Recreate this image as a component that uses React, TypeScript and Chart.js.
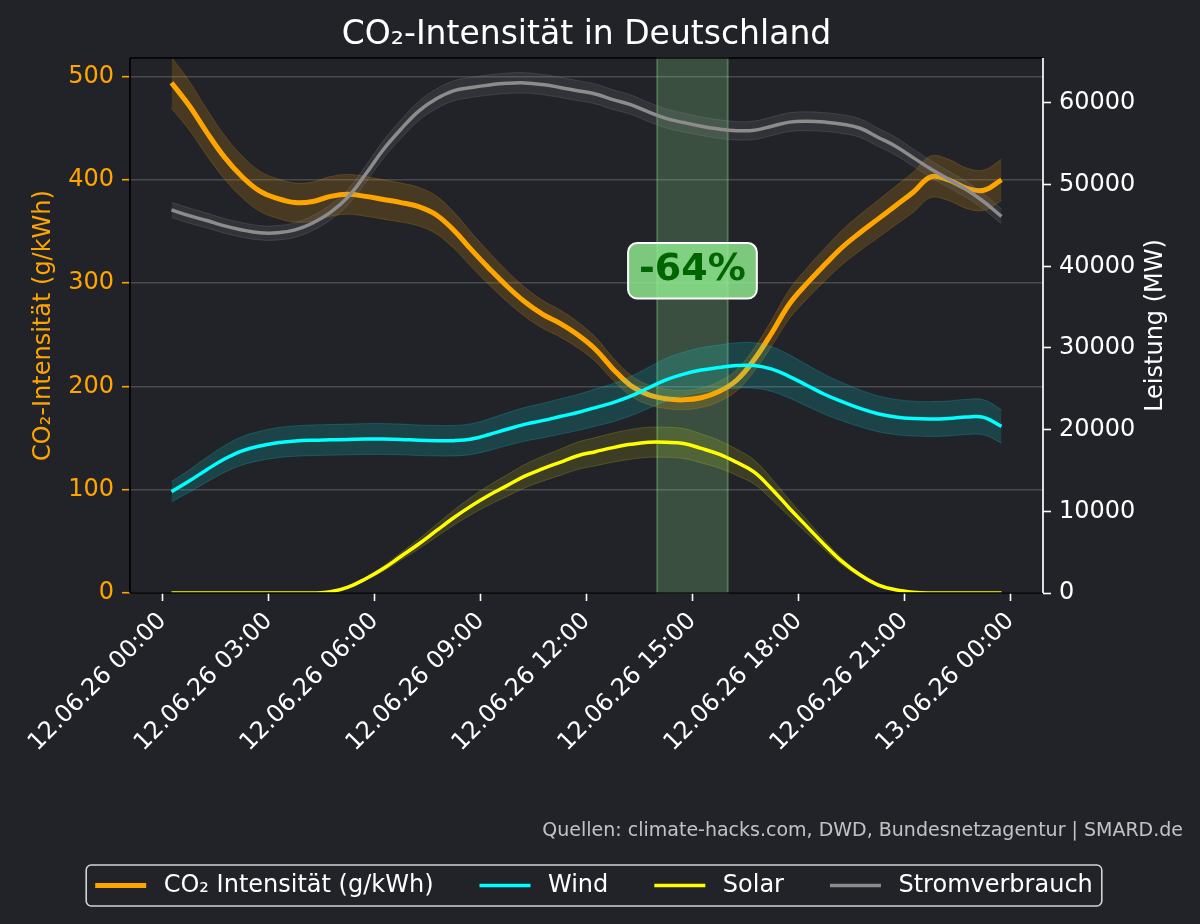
import React, { useEffect, useRef } from "react";
import { Chart, registerables } from "chart.js";

Chart.register(...registerables);

// ---------- data ----------
const hours = [
  0.25, 0.75, 1.25, 1.75, 2.25, 2.75, 3.25, 3.75, 4.25, 4.75, 5.25, 5.75,
  6.25, 6.75, 7.25, 7.75, 8.25, 8.75, 9.25, 9.75, 10.25, 10.75, 11.25, 11.75,
  12.25, 12.75, 13.25, 13.75, 14.25, 14.75, 15.25, 15.75, 16.25, 16.75, 17.25, 17.75,
  18.25, 18.75, 19.25, 19.75, 20.25, 20.75, 21.25, 21.75, 22.25, 22.75, 23.25, 23.75,
];

const co2 = [
  494, 472, 446, 422, 403, 389, 382, 378, 379, 384, 386, 384,
  381, 378, 374, 366, 351, 332, 314, 297, 282, 270, 261, 250,
  236, 217, 201, 192, 188, 187, 189, 195, 206, 226, 252, 280,
  300, 318, 335, 349, 362, 375, 388, 403, 400, 392, 390, 400,
];

const wind = [
  12400, 13700, 15100, 16400, 17400, 18000, 18400, 18600, 18700, 18750, 18800, 18850,
  18850, 18800, 18700, 18650, 18650, 18850, 19400, 20050, 20650, 21100, 21600, 22100,
  22700, 23300, 24100, 25100, 26100, 26800, 27300, 27600, 27850, 27850, 27400, 26500,
  25400, 24300, 23400, 22600, 21950, 21550, 21350, 21300, 21370, 21550, 21500, 20400,
];

const solar = [
  0, 0, 0, 0, 0, 0, 0, 0, 0, 150, 720, 1750,
  3000, 4500, 6000, 7630, 9240, 10700, 12000, 13150, 14300, 15200, 16000, 16800,
  17300, 17800, 18200, 18450, 18450, 18300, 17700, 17000, 16000, 14800, 12700, 10350,
  8100, 5850, 3800, 2200, 1000, 400, 100, 0, 0, 0, 0, 0,
];

const load = [
  46900, 46200, 45600, 44950, 44450, 44100, 44100, 44450, 45300, 46600, 48500, 51300,
  54300, 56800, 59000, 60500, 61500, 61900, 62200, 62400, 62450, 62250, 61900, 61500,
  61100, 60400, 59800, 58900, 58100, 57600, 57150, 56800, 56600, 56650, 57150, 57650,
  57750, 57650, 57400, 56900, 55800, 54700, 53300, 51900, 50650, 49400, 47900, 46100,
];

// relative uncertainty of each series (band half-width)
const co2Uncertainty = 0.05;
const windUncertainty = 0.1;
const solarUncertainty = 0.1;
const loadUncertainty = 0.02;

const xTickHours = [0, 3, 6, 9, 12, 15, 18, 21, 24];
const xTickLabels = [
  "12.06.26 00:00",
  "12.06.26 03:00",
  "12.06.26 06:00",
  "12.06.26 09:00",
  "12.06.26 12:00",
  "12.06.26 15:00",
  "12.06.26 18:00",
  "12.06.26 21:00",
  "13.06.26 00:00",
];
const co2Ticks = [0, 100, 200, 300, 400, 500];
const powerTicks = [0, 10000, 20000, 30000, 40000, 50000, 60000];

const X_MIN = -0.925;
const X_MAX = 24.925;
const CO2_MAX = 518;
const POWER_MAX = 65500;

const spanStart = 14;
const spanEnd = 16;
const annotationText = "-64%";
const annotationX = 15;
const annotationY = 312;

const titleText = "CO\u2082-Intensit\u00e4t in Deutschland";
const leftLabel = "CO\u2082-Intensit\u00e4t (g/kWh)";
const rightLabel = "Leistung (MW)";
const sourceText = "Quellen: climate-hacks.com, DWD, Bundesnetzagentur | SMARD.de";

const seriesLabels = ["CO\u2082 Intensit\u00e4t (g/kWh)", "Wind", "Solar", "Stromverbrauch"];

// ---------- style ----------
const BG = "#222329";
const FONT = "'DejaVu Sans', 'Noto Sans', sans-serif";
const ORANGE = "#FFA500";
const CYAN = "#00FFFF";
const YELLOW = "#FFFF00";
const GRAY = "#8c8c8c";

export default function App() {
  const ref = useRef<HTMLCanvasElement>(null);

  useEffect(() => {
    document.body.style.margin = "0";
    document.body.style.background = BG;
    const canvas = ref.current!;

    const pts = (vals: number[], f: number) => hours.map((h, i) => ({ x: h, y: vals[i] * f }));

    const series = [
      { label: seriesLabels[0], vals: co2, u: co2Uncertainty, color: ORANGE, fill: "rgba(255,165,0,0.17)", edge: "rgba(255,165,0,0.2)", axis: "y", width: 5 },
      { label: seriesLabels[1], vals: wind, u: windUncertainty, color: CYAN, fill: "rgba(0,255,255,0.15)", edge: "rgba(0,255,255,0.18)", axis: "y1", width: 3.5 },
      { label: seriesLabels[2], vals: solar, u: solarUncertainty, color: YELLOW, fill: "rgba(255,255,0,0.12)", edge: "rgba(255,255,0,0.16)", axis: "y1", width: 3.5 },
      { label: seriesLabels[3], vals: load, u: loadUncertainty, color: GRAY, fill: "rgba(150,150,150,0.15)", edge: "rgba(150,150,150,0.2)", axis: "y1", width: 3.5 },
    ];

    const datasets: any[] = [];
    const total = series.length * 3;
    let drawIdx = 0;
    series.forEach((s) => {
      datasets.push({
        label: s.label + " low",
        data: pts(s.vals, 1 - s.u),
        yAxisID: s.axis,
        borderColor: s.edge,
        borderWidth: 1,
        pointRadius: 0,
        fill: false,
        tension: 0.4,
        order: total - drawIdx++,
        clip: 0,
      });
      datasets.push({
        label: s.label + " high",
        data: pts(s.vals, 1 + s.u),
        yAxisID: s.axis,
        borderColor: s.edge,
        borderWidth: 1,
        pointRadius: 0,
        fill: "-1",
        backgroundColor: s.fill,
        tension: 0.4,
        order: total - drawIdx++,
        clip: 0,
      });
      datasets.push({
        label: s.label,
        data: pts(s.vals, 1),
        yAxisID: s.axis,
        borderColor: s.color,
        borderWidth: s.width,
        pointRadius: 0,
        fill: false,
        tension: 0.4,
        order: total - drawIdx++,
        clip: 0,
        isMain: true,
      });
    });

    const bgPlugin = {
      id: "bg",
      beforeDraw(chart: any) {
        const ctx = chart.ctx;
        ctx.save();
        ctx.fillStyle = BG;
        ctx.fillRect(0, 0, chart.width, chart.height);
        ctx.restore();
      },
    };

    const spanPlugin = {
      id: "span",
      beforeDatasetsDraw(chart: any) {
        const { ctx, chartArea } = chart;
        const xs = chart.scales.x;
        const x0 = xs.getPixelForValue(spanStart);
        const x1 = xs.getPixelForValue(spanEnd);
        ctx.save();
        ctx.fillStyle = "rgba(144,238,144,0.22)";
        ctx.fillRect(x0, chartArea.top, x1 - x0, chartArea.bottom - chartArea.top);
        ctx.strokeStyle = "rgba(144,238,144,0.3)";
        ctx.lineWidth = 2;
        ctx.strokeRect(x0, chartArea.top, x1 - x0, chartArea.bottom - chartArea.top);
        ctx.restore();
      },
    };

    const overlayPlugin = {
      id: "overlay",
      afterDatasetsDraw(chart: any) {
        const { ctx, chartArea } = chart;
        const { left, right, top, bottom } = chartArea;
        ctx.save();
        ctx.lineWidth = 1.7;
        ctx.strokeStyle = "#000000";
        ctx.beginPath();
        ctx.moveTo(left, top);
        ctx.lineTo(right, top);
        ctx.moveTo(left, top);
        ctx.lineTo(left, bottom);
        ctx.moveTo(left, bottom);
        ctx.lineTo(right, bottom);
        ctx.stroke();
        ctx.strokeStyle = "#ffffff";
        ctx.beginPath();
        ctx.moveTo(right, top);
        ctx.lineTo(right, bottom);
        ctx.stroke();

        // annotation
        const ax = chart.scales.x.getPixelForValue(annotationX);
        const ay = chart.scales.y.getPixelForValue(annotationY);
        ctx.font = `bold 38px ${FONT}`;
        const w = ctx.measureText(annotationText).width;
        const pad = 11;
        const bw = w + 2 * pad;
        const bh = 38 * 0.88 + 2 * pad;
        const bx = ax - bw / 2;
        const by = ay - bh / 2;
        ctx.beginPath();
        (ctx as any).roundRect(bx, by, bw, bh, 9);
        ctx.fillStyle = "rgba(144,238,144,0.82)";
        ctx.fill();
        ctx.lineWidth = 2;
        ctx.strokeStyle = "#ffffff";
        ctx.stroke();
        ctx.fillStyle = "#006400";
        ctx.textAlign = "center";
        ctx.textBaseline = "middle";
        ctx.fillText(annotationText, ax, ay - 1);
        ctx.restore();
      },
      afterDraw(chart: any) {
        const { ctx, chartArea } = chart;
        const cx = (chartArea.left + chartArea.right) / 2;
        const cy = (chartArea.top + chartArea.bottom) / 2;
        ctx.save();
        // title
        ctx.fillStyle = "#ffffff";
        ctx.font = `33px ${FONT}`;
        ctx.textAlign = "center";
        ctx.textBaseline = "alphabetic";
        ctx.fillText(titleText, cx, 44);

        // axis labels
        ctx.font = `24px ${FONT}`;
        ctx.textBaseline = "middle";
        ctx.save();
        ctx.translate(44, cy);
        ctx.rotate(-Math.PI / 2);
        ctx.fillStyle = ORANGE;
        ctx.fillText(leftLabel, 0, 0);
        ctx.restore();
        ctx.save();
        ctx.translate(1156, cy);
        ctx.rotate(-Math.PI / 2);
        ctx.fillStyle = "#ffffff";
        ctx.fillText(rightLabel, 0, 0);
        ctx.restore();

        // source
        ctx.font = `19px ${FONT}`;
        ctx.fillStyle = "rgba(255,255,255,0.72)";
        ctx.textAlign = "right";
        ctx.textBaseline = "middle";
        ctx.fillText(sourceText, 1183, 831);

        // legend
        ctx.font = `24px ${FONT}`;
        const mains = chart.data.datasets.filter((d: any) => d.isMain);
        const handle = 51;
        const hpad = 17.5;
        const colSpace = 46;
        const border = 9;
        const widths = mains.map((d: any) => ctx.measureText(d.label).width);
        const inner = widths.reduce((a: number, b: number) => a + b, 0) + mains.length * (handle + hpad) + (mains.length - 1) * colSpace;
        const boxW = inner + 2 * border;
        const boxH = 41;
        const lcx = 594;
        const lcy = 885.5;
        const bx = lcx - boxW / 2;
        ctx.beginPath();
        (ctx as any).roundRect(bx, lcy - boxH / 2, boxW, boxH, 5);
        ctx.fillStyle = BG;
        ctx.fill();
        ctx.lineWidth = 1.6;
        ctx.strokeStyle = "rgba(255,255,255,0.8)";
        ctx.stroke();
        let x = bx + border;
        mains.forEach((d: any, i: number) => {
          ctx.strokeStyle = d.borderColor;
          ctx.lineWidth = d.borderWidth;
          ctx.beginPath();
          ctx.moveTo(x, lcy);
          ctx.lineTo(x + handle, lcy);
          ctx.stroke();
          x += handle + hpad;
          ctx.fillStyle = "#ffffff";
          ctx.textAlign = "left";
          ctx.textBaseline = "middle";
          ctx.fillText(d.label, x, lcy);
          x += widths[i] + colSpace;
        });
        ctx.restore();
      },
    };

    const chart = new Chart(canvas, {
      type: "line",
      data: { datasets },
      options: {
        responsive: false,
        animation: false,
        events: [],
        layout: { padding: { top: 58, left: 0, right: 0, bottom: 0 } },
        plugins: {
          legend: { display: false },
          tooltip: { enabled: false },
          title: { display: false },
        },
        font: { family: FONT },
        scales: {
          x: {
            type: "linear",
            min: X_MIN,
            max: X_MAX,
            afterBuildTicks: (s: any) => {
              s.ticks = xTickHours.map((v) => ({ value: v }));
            },
            afterFit: (s: any) => {
              s.height = 331;
            },
            ticks: {
              autoSkip: false,
              minRotation: 45,
              maxRotation: 45,
              color: "#ffffff",
              font: { size: 24, family: FONT },
              padding: 6,
              callback: (v: any) => {
                const i = xTickHours.indexOf(Number(v));
                return i >= 0 ? xTickLabels[i] : "";
              },
            },
            grid: {
              drawOnChartArea: false,
              drawTicks: true,
              tickLength: 8,
              tickWidth: 1.6,
              tickColor: "#ffffff",
            },
            border: { display: false },
          },
          y: {
            type: "linear",
            position: "left",
            min: 0,
            max: CO2_MAX,
            afterBuildTicks: (s: any) => {
              s.ticks = co2Ticks.map((v) => ({ value: v }));
            },
            afterFit: (s: any) => {
              s.width = 130;
            },
            ticks: {
              color: ORANGE,
              font: { size: 24, family: FONT },
              padding: 8,
              callback: (v: any) => String(v),
            },
            grid: {
              color: "rgba(255,255,255,0.18)",
              lineWidth: 1.4,
              drawTicks: true,
              tickLength: 8,
              tickWidth: 1.6,
              tickColor: ORANGE,
            },
            border: { display: false },
          },
          y1: {
            type: "linear",
            position: "right",
            min: 0,
            max: POWER_MAX,
            afterBuildTicks: (s: any) => {
              s.ticks = powerTicks.map((v) => ({ value: v }));
            },
            afterFit: (s: any) => {
              s.width = 157;
            },
            ticks: {
              color: "#ffffff",
              font: { size: 24, family: FONT },
              padding: 8,
              callback: (v: any) => String(v),
            },
            grid: {
              drawOnChartArea: false,
              drawTicks: true,
              tickLength: 8,
              tickWidth: 1.6,
              tickColor: "#ffffff",
            },
            border: { display: false },
          },
        },
      } as any,
      plugins: [bgPlugin, spanPlugin, overlayPlugin],
    });

    return () => chart.destroy();
  }, []);

  return <canvas ref={ref} width={1200} height={924} style={{ display: "block" }} />;
}
